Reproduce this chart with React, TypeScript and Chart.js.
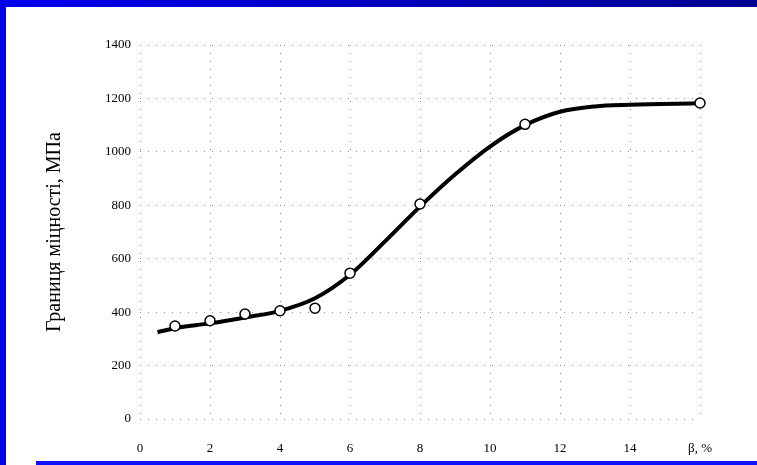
import React, { useEffect, useRef } from "react";
import { Chart, registerables } from "chart.js";

Chart.register(...registerables);

// Measured points (β, %; strength limit, MPa)
const pointBeta = [1, 2, 3, 4, 5, 6, 8, 11, 16];
const pointStrength = [348, 368, 393, 405, 415, 546, 805, 1103, 1183];

// Fitted curve
const curveBeta = [0.5, 1, 2, 3, 4, 5, 6, 7, 8, 9, 10, 11, 12, 13, 14, 16];
const curveStrength = [325, 340, 358, 380, 405, 452, 540, 665, 795, 915, 1020, 1100, 1150, 1170, 1176, 1182];

const xTicks = [0, 2, 4, 6, 8, 10, 12, 14, 16];
const xTickLabels = ["0", "2", "4", "6", "8", "10", "12", "14", "β, %"];
const yTicks = [0, 200, 400, 600, 800, 1000, 1200, 1400];

const yTitle = "Границя міцності, МПа";

export default function App() {
  const ref = useRef<HTMLCanvasElement | null>(null);

  useEffect(() => {
    if (!ref.current) return;
    const font = { family: "'Liberation Serif', 'DejaVu Serif', serif", size: 13 };
    const chart = new Chart(ref.current, {
      type: "line",
      data: {
        datasets: [
          {
            label: "curve",
            data: curveBeta.map((b, i) => ({ x: b, y: curveStrength[i] })),
            borderColor: "#000",
            borderWidth: 4,
            pointRadius: 0,
            cubicInterpolationMode: "monotone",
            fill: false,
            order: 1,
          },
          {
            label: "points",
            type: "scatter",
            data: pointBeta.map((b, i) => ({ x: b, y: pointStrength[i] })),
            backgroundColor: "#fff",
            borderColor: "#000",
            borderWidth: 1.5,
            pointRadius: 5,
            showLine: false,
            order: 0,
          } as any,
        ],
      },
      options: {
        animation: false,
        responsive: false,
        maintainAspectRatio: false,
        clip: false as any,
        layout: { padding: { top: 45, right: 57, left: 0, bottom: 0 } },
        plugins: { legend: { display: false }, tooltip: { enabled: false } },
        scales: {
          x: {
            type: "linear",
            min: 0,
            max: 16,
            afterBuildTicks: (s: any) => {
              s.ticks = xTicks.map((v) => ({ value: v }));
            },
            afterFit: (s: any) => {
              s.height = 46;
            },
            ticks: {
              font,
              color: "#000",
              padding: 22,
              maxRotation: 0,
              autoSkip: false,
              callback: (v: any) => {
                const i = xTicks.indexOf(Number(v));
                return i >= 0 ? xTickLabels[i] : "";
              },
            },
            grid: { color: "#888", lineWidth: 1, drawTicks: false },
            border: { display: false, dash: [1, 7] },
          } as any,
          y: {
            type: "linear",
            min: 0,
            max: 1400,
            afterBuildTicks: (s: any) => {
              s.ticks = yTicks.map((v) => ({ value: v }));
            },
            afterFit: (s: any) => {
              s.width = 140;
            },
            ticks: { font, color: "#000", padding: 9, callback: (v: any) => String(v) },
            grid: { color: "#888", lineWidth: 1, drawTicks: false },
            border: { display: false, dash: [1, 7] },
            title: {
              display: true,
              text: yTitle,
              color: "#000",
              font: { family: "'Liberation Serif', 'DejaVu Serif', serif", size: 20 },
              padding: { top: 43, bottom: 0 },
            },
          } as any,
        },
      },
    });
    return () => chart.destroy();
  }, []);

  return (
    <div style={{ position: "fixed", left: 0, top: 0, width: 757, height: 465, background: "#fff", overflow: "hidden" }}>
      <canvas ref={ref} width={757} height={465} style={{ position: "absolute", left: 0, top: 0, width: 757, height: 465 }} />
      <div style={{ position: "absolute", left: 0, top: 0, width: 757, height: 7, background: "linear-gradient(to right, #0000f0, #000090)" }} />
      <div style={{ position: "absolute", left: 0, top: 0, width: 6, height: 465, background: "#0000f0" }} />
      <div style={{ position: "absolute", left: 36, top: 461, width: 721, height: 4, background: "#1010ff" }} />
    </div>
  );
}
